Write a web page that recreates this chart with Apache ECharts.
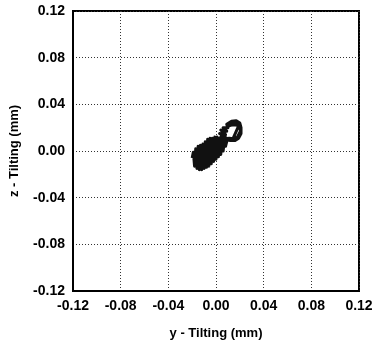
<!DOCTYPE html>
<html>
<head>
<meta charset="utf-8">
<script src="https://cdn.jsdelivr.net/npm/echarts@6/dist/echarts.min.js"></script>
<style>
  html, body { margin: 0; padding: 0; background: #fff; }
  #chart { width: 376px; height: 345px; }
</style>
</head>
<body>
<div id="chart"></div>
<script>
// tilt trace (mm)
const yTilt = [
  -0.020, -0.019, -0.018, -0.017, -0.016, -0.015, -0.014, -0.013, -0.012, -0.011,
  -0.010, -0.009, -0.008, -0.007, -0.006, -0.005, -0.004, -0.003, -0.002, -0.001,
  0.000, 0.001, 0.002, 0.003, 0.004, 0.005, 0.006, 0.007, 0.008, 0.009,
  0.004, 0.009, 0.003, 0.008, 0.004, 0.009, 0.006, 0.010,
  0.009, 0.013, 0.017, 0.020, 0.021, 0.021, 0.019, 0.016, 0.012, 0.008,
  0.011, 0.015, 0.018, 0.0205, 0.020, 0.017, 0.013, 0.010, 0.012, 0.016, 0.019,
  0.014, 0.010, 0.006, 0.002, -0.003, -0.008, -0.012, -0.016, -0.013, -0.009,
  -0.004, 0.000, 0.004
];
const zTilt = [
  -0.006, -0.001, -0.013, 0.002, -0.015, 0.004, -0.016, 0.005, -0.016, 0.006,
  -0.015, 0.008, -0.014, 0.010, -0.013, 0.011, -0.011, 0.011, -0.009, 0.012,
  -0.007, 0.012, -0.005, 0.011, -0.003, 0.010, 0.000, 0.009, 0.004, 0.008,
  0.012, 0.011, 0.015, 0.014, 0.018, 0.017, 0.020, 0.020,
  0.023, 0.0255, 0.026, 0.024, 0.020, 0.015, 0.011, 0.009, 0.009, 0.010,
  0.011, 0.0105, 0.012, 0.017, 0.022, 0.024, 0.023, 0.021, 0.022, 0.0225, 0.0215,
  0.010, 0.010, 0.007, 0.004, 0.001, -0.004, -0.008, -0.011, -0.003, 0.001,
  0.005, 0.008, 0.006
];
const axisMin = -0.12;
const axisMax = 0.12;
const axisStep = 0.04;

const points = yTilt.map((v, i) => [v, zTilt[i]]);

const labelStyle = {
  color: '#000',
  fontFamily: 'Liberation Sans, Arial, sans-serif',
  fontWeight: 'bold',
  fontSize: 14,
  formatter: v => v.toFixed(2)
};
const nameStyle = {
  color: '#000',
  fontFamily: 'Liberation Sans, Arial, sans-serif',
  fontWeight: 'bold',
  fontSize: 13
};
const dotted = { show: true, lineStyle: { type: [1, 2], color: '#333', width: 1 } };

const chart = echarts.init(document.getElementById('chart'));
chart.setOption({
  animation: false,
  grid: {
    left: 67, right: 17, top: 11, bottom: 48,
    show: true, borderColor: '#000', borderWidth: 2
  },
  xAxis: {
    type: 'value',
    min: axisMin, max: axisMax, interval: axisStep,
    name: 'y - Tilting (mm)',
    nameLocation: 'middle',
    nameGap: 36,
    nameTextStyle: nameStyle,
    axisLine: { show: true, onZero: false, lineStyle: { color: '#000', width: 2 } },
    axisTick: { show: false },
    axisLabel: { ...labelStyle, margin: 8 },
    splitLine: dotted
  },
  yAxis: {
    type: 'value',
    min: axisMin, max: axisMax, interval: axisStep,
    name: 'z - Tilting (mm)',
    nameLocation: 'middle',
    nameGap: 52,
    nameTextStyle: nameStyle,
    axisLine: { show: true, onZero: false, lineStyle: { color: '#000', width: 2 } },
    axisTick: { show: false },
    axisLabel: { ...labelStyle, margin: 8 },
    splitLine: dotted
  },
  series: [{
    type: 'line',
    data: points,
    showSymbol: false,
    lineStyle: { color: '#111', width: 3, join: 'round' }
  }]
});
</script>
</body>
</html>
